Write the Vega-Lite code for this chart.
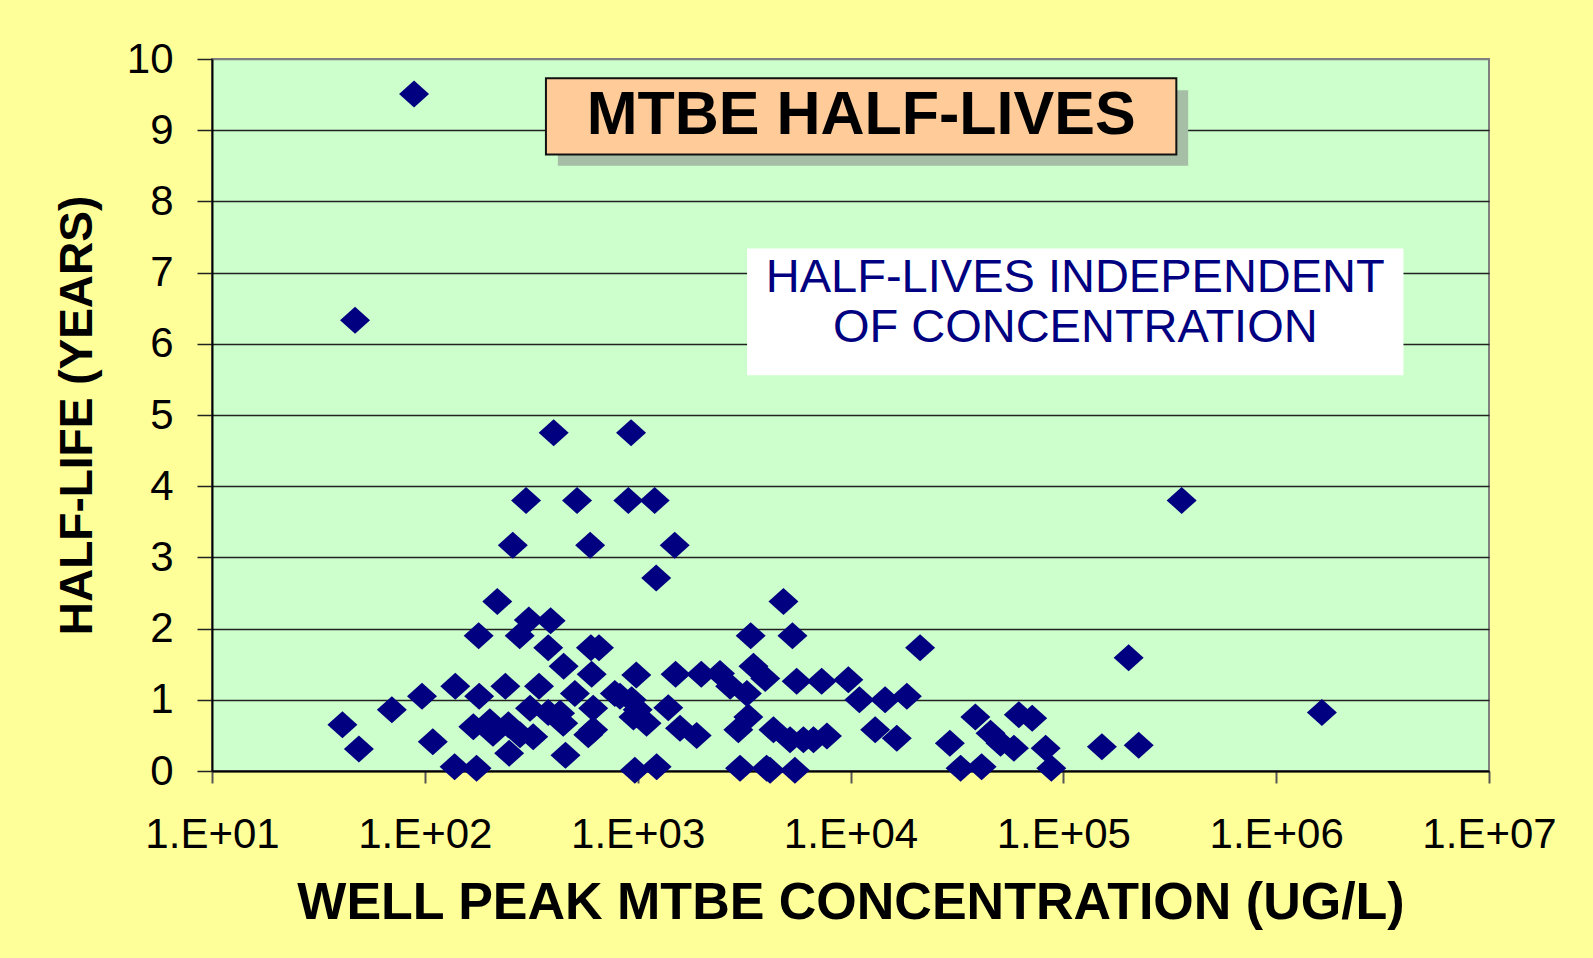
{
  "$schema": "https://vega.github.io/schema/vega-lite/v6.json",
  "autosize": "none",
  "width": 1277,
  "height": 712,
  "padding": {"left": 212, "top": 59, "right": 104, "bottom": 187},
  "background": "#FFFF99",
  "config": {
    "view": {"fill": "#CCFFCC", "stroke": "#808080", "strokeWidth": 2},
    "font": "Liberation Sans"
  },
  "layer": [
    {
      "data": {"values": [{}]},
      "mark": {"type": "rect", "fill": "#A6BEA6"},
      "encoding": {
        "x": {"datum": 421.7, "type": "quantitative"},
        "x2": {"datum": 386000},
        "y": {"datum": 9.56, "type": "quantitative"},
        "y2": {"datum": 8.5}
      }
    },
    {
      "data": {"values": [{}]},
      "mark": {"type": "rect", "fill": "#FFCC99", "stroke": "#111111", "strokeWidth": 2},
      "encoding": {
        "x": {"datum": 370.7, "type": "quantitative"},
        "x2": {"datum": 339600},
        "y": {"datum": 9.73, "type": "quantitative"},
        "y2": {"datum": 8.66}
      }
    },
    {
      "data": {"values": [{}]},
      "mark": {"type": "rect", "fill": "#FFFFFF"},
      "encoding": {
        "x": {"datum": 3266, "type": "quantitative"},
        "x2": {"datum": 3963000},
        "y": {"datum": 7.34, "type": "quantitative"},
        "y2": {"datum": 5.56}
      }
    },
    {
      "data": {"values": [{}]},
      "mark": {"type": "text", "text": "MTBE HALF-LIVES", "font": "Liberation Sans", "fontWeight": "bold", "fontSize": 61, "color": "#000000", "align": "center", "baseline": "middle"},
      "encoding": {
        "x": {"datum": 11220, "type": "quantitative"},
        "y": {"datum": 9.2, "type": "quantitative"}
      }
    },
    {
      "data": {"values": [{}]},
      "mark": {"type": "text", "text": ["HALF-LIVES INDEPENDENT", "OF CONCENTRATION"], "font": "Liberation Sans", "fontSize": 47, "lineHeight": 50, "color": "#000080", "align": "center", "baseline": "middle"},
      "encoding": {
        "x": {"datum": 113800, "type": "quantitative"},
        "y": {"datum": 6.93, "type": "quantitative"}
      }
    },
    {
      "data": {
        "values": [
          {"c": 89, "h": 9.51}, {"c": 47, "h": 6.33}, {"c": 41, "h": 0.65}, {"c": 49, "h": 0.31},
          {"c": 70, "h": 0.86}, {"c": 97, "h": 1.05}, {"c": 109, "h": 0.41}, {"c": 139, "h": 1.19},
          {"c": 138, "h": 0.06}, {"c": 175, "h": 0.04}, {"c": 179, "h": 1.9}, {"c": 180, "h": 1.05},
          {"c": 219, "h": 2.38}, {"c": 239, "h": 1.19}, {"c": 259, "h": 3.17}, {"c": 299, "h": 3.8},
          {"c": 308, "h": 2.12}, {"c": 279, "h": 1.9}, {"c": 344, "h": 1.19}, {"c": 403, "h": 4.75},
          {"c": 390, "h": 2.11}, {"c": 380, "h": 1.73}, {"c": 449, "h": 1.47}, {"c": 519, "h": 3.8},
          {"c": 598, "h": 3.17}, {"c": 603, "h": 1.73}, {"c": 658, "h": 1.73}, {"c": 608, "h": 1.36},
          {"c": 931, "h": 4.75}, {"c": 904, "h": 3.8}, {"c": 1202, "h": 3.8}, {"c": 1493, "h": 3.17},
          {"c": 1222, "h": 2.71}, {"c": 985, "h": 1.35}, {"c": 1507, "h": 1.36}, {"c": 1990, "h": 1.36},
          {"c": 2437, "h": 1.37}, {"c": 249, "h": 0.25}, {"c": 458, "h": 0.22}, {"c": 970, "h": 0.01},
          {"c": 1228, "h": 0.06}, {"c": 169, "h": 0.62}, {"c": 202, "h": 0.69}, {"c": 209, "h": 0.53},
          {"c": 247, "h": 0.65}, {"c": 280, "h": 0.51}, {"c": 323, "h": 0.48}, {"c": 312, "h": 0.88},
          {"c": 380, "h": 0.82}, {"c": 447, "h": 0.67}, {"c": 432, "h": 0.81}, {"c": 507, "h": 1.09},
          {"c": 618, "h": 0.88}, {"c": 586, "h": 0.51}, {"c": 618, "h": 0.58}, {"c": 781, "h": 1.09},
          {"c": 826, "h": 1.05}, {"c": 937, "h": 1.0}, {"c": 1000, "h": 0.86}, {"c": 1101, "h": 0.67},
          {"c": 1393, "h": 0.89}, {"c": 1581, "h": 0.6}, {"c": 1893, "h": 0.5}, {"c": 955, "h": 0.76},
          {"c": 2720, "h": 1.19}, {"c": 3260, "h": 1.09}, {"c": 3311, "h": 0.76}, {"c": 2972, "h": 0.58},
          {"c": 4345, "h": 0.58}, {"c": 3027, "h": 0.04}, {"c": 4036, "h": 0.04}, {"c": 4842, "h": 2.38},
          {"c": 3396, "h": 1.9}, {"c": 5336, "h": 1.9}, {"c": 21230, "h": 1.73}, {"c": 3500, "h": 1.47},
          {"c": 3975, "h": 1.3}, {"c": 5585, "h": 1.26}, {"c": 7320, "h": 1.26}, {"c": 9770, "h": 1.28},
          {"c": 11010, "h": 1.0}, {"c": 14540, "h": 1.0}, {"c": 18400, "h": 1.05}, {"c": 5200, "h": 0.44},
          {"c": 6010, "h": 0.44}, {"c": 6700, "h": 0.44}, {"c": 7750, "h": 0.49}, {"c": 13060, "h": 0.58},
          {"c": 16500, "h": 0.46}, {"c": 4190, "h": 0.01}, {"c": 5480, "h": 0.01}, {"c": 29300, "h": 0.39},
          {"c": 38600, "h": 0.76}, {"c": 45500, "h": 0.53}, {"c": 50700, "h": 0.39}, {"c": 58600, "h": 0.32},
          {"c": 61800, "h": 0.79}, {"c": 71400, "h": 0.74}, {"c": 82600, "h": 0.32}, {"c": 87800, "h": 0.04},
          {"c": 32900, "h": 0.04}, {"c": 41300, "h": 0.06}, {"c": 151800, "h": 0.34}, {"c": 226000, "h": 0.36},
          {"c": 202700, "h": 1.59}, {"c": 359700, "h": 3.8}, {"c": 1640000, "h": 0.82}
        ]
      },
      "mark": {"type": "point", "shape": "M-1,0L0,-0.9L1,0L0,0.9Z", "size": 900, "filled": true, "fill": "#000080", "opacity": 1, "strokeWidth": 0},
      "encoding": {
        "x": {
          "field": "c", "type": "quantitative",
          "scale": {"type": "log", "domain": [10, 10000000], "nice": false},
          "axis": {
            "title": "WELL PEAK MTBE CONCENTRATION (UG/L)",
            "values": [10, 100, 1000, 10000, 100000, 1000000, 10000000],
            "labelExpr": "'1.E+0' + round(log(datum.value) / LN10)",
            "grid": false,
            "domainColor": "#000000", "domainWidth": 2,
            "tickColor": "#555555", "tickWidth": 2, "tickSize": 12,
            "labelPadding": 31, "labelFontSize": 42, "labelColor": "#000000", "labelFont": "Liberation Sans",
            "labelFlush": false, "labelOverlap": false,
            "titleFontSize": 52, "titleFontWeight": "bold", "titleColor": "#000000", "titleFont": "Liberation Sans",
            "titlePadding": 22
          }
        },
        "y": {
          "field": "h", "type": "quantitative",
          "scale": {"domain": [0, 10], "nice": false, "zero": true},
          "axis": {
            "title": "HALF-LIFE (YEARS)",
            "values": [0, 1, 2, 3, 4, 5, 6, 7, 8, 9, 10],
            "format": "d",
            "grid": true,
            "gridColor": {"condition": {"test": "datum.value == 10", "value": "#808080"}, "value": "#222222"},
            "gridWidth": 1.5,
            "domainColor": "#000000", "domainWidth": 2,
            "tickColor": "#222222", "tickWidth": 1.5, "tickSize": 15,
            "labelPadding": 24, "labelFontSize": 42, "labelColor": "#000000", "labelFont": "Liberation Sans",
            "labelFlush": false, "labelOverlap": false,
            "titleFontSize": 46, "titleFontWeight": "bold", "titleColor": "#000000", "titleFont": "Liberation Sans",
            "titlePadding": 25
          }
        }
      }
    }
  ]
}
